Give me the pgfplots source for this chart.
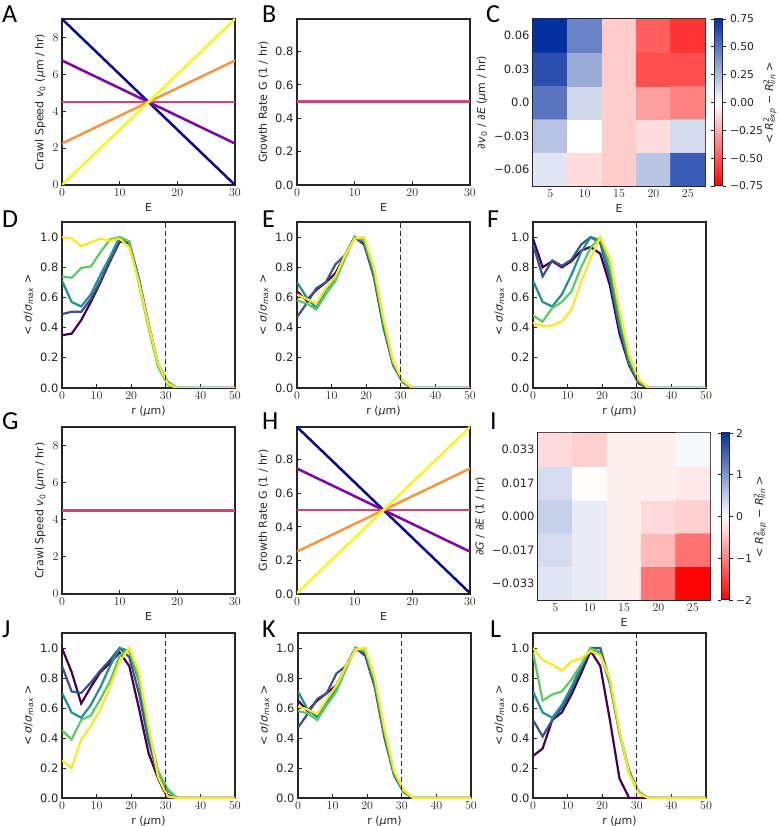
\documentclass[border=0pt]{standalone}
\usepackage{fontspec}
\setmainfont{DejaVu Sans}
\newfontfamily\letterfont{Carlito}
\usepackage{pgfplots}
\usepackage{pgfplotstable}
\pgfplotsset{compat=1.18}

\definecolor{pl0}{HTML}{0D0887}
\definecolor{pl1}{HTML}{7E03A8}
\definecolor{pl2}{HTML}{CC4778}
\definecolor{pl3}{HTML}{F89540}
\definecolor{pl4}{HTML}{F0F921}
\definecolor{vi0}{HTML}{440154}
\definecolor{vi1}{HTML}{3B528B}
\definecolor{vi2}{HTML}{21918C}
\definecolor{vi3}{HTML}{5EC962}
\definecolor{vi4}{HTML}{FDE725}
\definecolor{fg}{HTML}{262626}

\newcommand\Rsq[1]{\textit{R}\rlap{\textsuperscript{2}}\textsubscript{\textit{#1}}}

\pgfplotstableread{
r p b t g y
0 0.35 0.49 0.71 0.74 1.00
2.78 0.36 0.505 0.57 0.73 0.99
5.56 0.45 0.505 0.54 0.795 0.94
8.33 0.57 0.59 0.62 0.805 0.965
11.11 0.70 0.71 0.75 0.90 0.99
13.89 0.84 0.85 0.87 0.985 0.975
16.67 0.97 0.98 1.00 1.00 0.99
19.44 0.96 0.96 0.97 0.97 0.93
22.22 0.72 0.72 0.72 0.69 0.70
25 0.42 0.42 0.43 0.40 0.42
27.78 0.15 0.15 0.16 0.14 0.16
30.56 0.03 0.03 0.04 0.02 0.03
33.33 0 0 0 0 0
36.11 0 0 0 0 0
38.89 0 0 0 0 0
41.67 0 0 0 0 0
44.44 0 0 0 0 0
47.22 0 0 0 0 0
50 0 0 0 0 0
}\tabD

\pgfplotstableread{
r p b t g y
0 0.64 0.47 0.70 0.58 0.62
2.78 0.58 0.56 0.60 0.56 0.59
5.56 0.65 0.66 0.53 0.52 0.56
8.33 0.70 0.70 0.65 0.62 0.66
11.11 0.76 0.82 0.73 0.71 0.74
13.89 0.88 0.88 0.88 0.86 0.88
16.67 1.00 1.00 1.00 1.00 0.99
19.44 0.95 0.96 0.97 0.98 1.00
22.22 0.74 0.74 0.76 0.78 0.80
25 0.41 0.40 0.42 0.44 0.46
27.78 0.16 0.15 0.16 0.17 0.18
30.56 0.04 0.04 0.04 0.05 0.05
33.33 0 0 0 0 0
36.11 0 0 0 0 0
38.89 0 0 0 0 0
41.67 0 0 0 0 0
44.44 0 0 0 0 0
47.22 0 0 0 0 0
50 0 0 0 0 0
}\tabE

\pgfplotstableread{
r p b t g y
0 0.99 0.95 0.71 0.48 0.43
2.78 0.80 0.74 0.57 0.44 0.41
5.56 0.84 0.845 0.54 0.53 0.415
8.33 0.80 0.81 0.62 0.57 0.44
11.11 0.84 0.85 0.75 0.64 0.52
13.89 0.91 0.95 0.90 0.80 0.70
16.67 0.935 1.00 1.00 0.93 0.86
19.44 0.89 0.96 0.98 1.00 1.00
22.22 0.68 0.72 0.76 0.82 0.86
25 0.36 0.40 0.42 0.48 0.52
27.78 0.15 0.16 0.17 0.20 0.22
30.56 0.03 0.04 0.04 0.05 0.06
33.33 0 0 0 0 0
36.11 0 0 0 0 0
38.89 0 0 0 0 0
41.67 0 0 0 0 0
44.44 0 0 0 0 0
47.22 0 0 0 0 0
50 0 0 0 0 0
}\tabF

\pgfplotstableread{
r p b t g y
0 1.00 0.88 0.70 0.45 0.25
2.78 0.84 0.71 0.57 0.39 0.20
5.56 0.63 0.70 0.535 0.52 0.39
8.33 0.74 0.77 0.62 0.55 0.48
11.11 0.84 0.85 0.74 0.66 0.59
13.89 0.90 0.92 0.88 0.78 0.74
16.67 0.97 1.00 1.00 0.95 0.91
19.44 0.88 0.94 0.98 0.99 1.00
22.22 0.60 0.70 0.78 0.80 0.84
25 0.30 0.38 0.42 0.46 0.48
27.78 0.13 0.15 0.16 0.18 0.14
30.56 0.00 0.02 0.05 0.06 0.01
33.33 0 0 0 0 0
36.11 0 0 0 0 0
38.89 0 0 0 0 0
41.67 0 0 0 0 0
44.44 0 0 0 0 0
47.22 0 0 0 0 0
50 0 0 0 0 0
}\tabJ

\pgfplotstableread{
r p b t g y
0 0.65 0.47 0.71 0.58 0.61
2.78 0.58 0.56 0.59 0.565 0.59
5.56 0.65 0.66 0.54 0.52 0.56
8.33 0.70 0.70 0.64 0.62 0.66
11.11 0.75 0.83 0.73 0.71 0.75
13.89 0.88 0.88 0.88 0.86 0.88
16.67 1.00 1.00 1.00 1.00 0.99
19.44 0.95 0.96 0.97 0.98 1.00
22.22 0.74 0.74 0.76 0.78 0.80
25 0.41 0.40 0.42 0.44 0.46
27.78 0.16 0.15 0.16 0.17 0.18
30.56 0.04 0.04 0.04 0.05 0.05
33.33 0 0 0 0 0
36.11 0 0 0 0 0
38.89 0 0 0 0 0
41.67 0 0 0 0 0
44.44 0 0 0 0 0
47.22 0 0 0 0 0
50 0 0 0 0 0
}\tabK

\pgfplotstableread{
r p b t g y
0 0.28 0.52 0.71 0.97 1.00
2.78 0.33 0.41 0.57 0.65 0.92
5.56 0.52 0.52 0.535 0.69 0.89
8.33 0.57 0.60 0.62 0.71 0.85
11.11 0.69 0.72 0.74 0.79 0.91
13.89 0.83 0.86 0.88 0.89 0.93
16.67 0.98 1.00 1.00 1.00 0.98
19.44 0.88 1.00 0.97 0.96 0.95
22.22 0.52 0.78 0.76 0.78 0.80
25 0.13 0.44 0.43 0.44 0.45
27.78 0.00 0.18 0.17 0.17 0.16
30.56 0.00 0.04 0.04 0.04 0.03
33.33 0 0 0 0 0
36.11 0 0 0 0 0
38.89 0 0 0 0 0
41.67 0 0 0 0 0
44.44 0 0 0 0 0
47.22 0 0 0 0 0
50 0 0 0 0 0
}\tabL

% heatmaps: x = E, y = row index (0 = most negative slope), c = value
\pgfplotstableread{
x y c
5 0 0.09
10 0 -0.10
15 0 -0.15
20 0 0.21
25 0 0.59
5 1 0.22
10 1 0.0
15 1 -0.15
20 1 -0.10
25 1 0.13
5 2 0.50
10 2 0.14
15 2 -0.15
20 2 -0.28
25 2 -0.37
5 3 0.64
10 3 0.30
15 3 -0.15
20 3 -0.52
25 3 -0.52
5 4 0.75
10 4 0.45
15 4 -0.15
20 4 -0.47
25 4 -0.60
}\tabC

\pgfplotstableread{
x y c
5 0 0.24
10 0 0.18
15 0 -0.12
20 0 -1.10
25 0 -1.95
5 1 0.34
10 1 0.18
15 1 -0.12
20 1 -0.55
25 1 -1.10
5 2 0.45
10 2 0.18
15 2 -0.12
20 2 -0.30
25 2 -0.37
5 3 0.34
10 3 -0.02
15 3 -0.12
20 3 -0.12
25 3 -0.18
5 4 -0.27
10 4 -0.37
15 4 -0.12
20 4 -0.12
25 4 0.07
}\tabI

\pgfplotsset{
  base/.style={scale only axis, width=173pt, height=166pt, anchor=south west,
    axis line style={line width=1.5pt, fg},
    tick style={line width=0.8pt, fg},
    major tick length=3.5pt,
    tick align=inside,
    tick pos=left,
    ticklabel style={font=\fontsize{11.5}{13}\selectfont, text=fg},
    label style={font=\fontsize{11}{12}\selectfont, text=fg},
  },
  lin/.style={base, xmin=0, xmax=30, xtick={0,10,20,30}, xlabel={E}},
  vax/.style={lin, ymin=0, ymax=9, ytick={0,2,4,6,8},
    ylabel={Crawl Speed \textit{v}\textsubscript{0} (\textit{μ}m / hr)}},
  gax/.style={lin, ymin=0, ymax=0.995, ytick={0,0.2,0.4,0.6,0.8},
    yticklabels={0.0,0.2,0.4,0.6,0.8},
    ylabel={Growth Rate G (1 / hr)}},
  prof/.style={base, xmin=0, xmax=50, ymin=0, ymax=1.1,
    xtick={0,10,20,30,40,50}, ytick={0,0.2,0.4,0.6,0.8,1},
    yticklabels={0.0,0.2,0.4,0.6,0.8,1.0},
    xlabel={r (\textit{μ}m)},
    ylabel={< \textit{σ}/\textit{σ}\textsubscript{\textit{max}} >}},
  heat/.style={base, width=172pt, height=167pt, enlargelimits=false,
    xmin=2.5, xmax=27.5, ymin=-0.5, ymax=4.5,
    xtick={5,10,15,20,25}, ytick={0,1,2,3,4}, xlabel={E},
    colormap={rb}{rgb255=(255,0,0) rgb255=(255,255,255) rgb255=(5,48,160)},
    colorbar},
  cbar/.style={width=8pt, at={(1.058,1)}, anchor=north west,
    axis line style={line width=1pt, fg},
    tick style={line width=0.8pt, fg}, major tick length=3.5pt,
    ytick align=outside,
    ticklabel style={font=\fontsize{10.8}{13}\selectfont, text=fg},
    label style={font=\fontsize{11}{12}\selectfont, text=fg},
    ylabel={< \Rsq{exp} − \Rsq{lin} >}},
}

\newcommand\profiles[1]{%
  \addplot[vi0, line width=2.2pt] table[x=r, y=p]{#1};
  \addplot[vi1, line width=2.2pt] table[x=r, y=b]{#1};
  \addplot[vi2, line width=2.2pt] table[x=r, y=t]{#1};
  \addplot[vi3, line width=2.2pt] table[x=r, y=g]{#1};
  \addplot[vi4, line width=2.2pt] table[x=r, y=y]{#1};
  \addplot[fg, line width=1.3pt, dash pattern=on 5pt off 3pt] coordinates {(30,0) (30,1.1)};
}

\begin{document}
\begin{tikzpicture}
\useasboundingbox (0,0) rectangle (778pt,826pt);

% ---------- row 1 ----------
\begin{axis}[vax, at={(62pt,641pt)}]
\addplot[pl0, line width=2.5pt] coordinates {(0,9) (30,0)};
\addplot[pl1, line width=2.5pt] coordinates {(0,6.75) (30,2.25)};
\addplot[pl2, line width=2.5pt] coordinates {(0,4.5) (30,4.5)};
\addplot[pl3, line width=2.5pt] coordinates {(0,2.25) (30,6.75)};
\addplot[pl4, line width=2.5pt] coordinates {(0,0) (30,9)};
\end{axis}

\begin{axis}[gax, at={(297pt,641pt)}]
\addplot[pl2, line width=2.5pt] coordinates {(0,0.5) (30,0.5)};
\end{axis}

\begin{axis}[heat, at={(533pt,640pt)},
  yticklabels={−0.06,−0.03,0.0,0.03,0.06},
  ylabel={\textit{∂v}\textsubscript{0} / \textit{∂E} (\textit{μ}m / hr)},
  point meta min=-0.75, point meta max=0.75,
  colorbar style={cbar, ytick={-0.75,-0.5,-0.25,0,0.25,0.5,0.75},
    yticklabels={−0.75,−0.50,−0.25,0.00,0.25,0.50,0.75},
    ylabel style={at={(axis description cs:1,0.5)}, anchor=center, yshift=-47pt}}]
\addplot[matrix plot*, mesh/cols=5, point meta=explicit] table[x=x, y=y, meta=c]{\tabC};
\end{axis}

% ---------- row 2 ----------
\begin{axis}[prof, at={(62pt,438pt)}]
\profiles{\tabD}
\end{axis}
\begin{axis}[prof, at={(297pt,438pt)}]
\profiles{\tabE}
\end{axis}
\begin{axis}[prof, at={(533pt,438pt)}]
\profiles{\tabF}
\end{axis}

% ---------- row 3 ----------
\begin{axis}[vax, at={(62pt,232pt)}, height=167pt]
\addplot[pl2, line width=2.5pt] coordinates {(0,4.5) (30,4.5)};
\end{axis}

\begin{axis}[gax, at={(297pt,232pt)}, height=167pt]
\addplot[pl0, line width=2.5pt] coordinates {(0,0.995) (30,0.005)};
\addplot[pl1, line width=2.5pt] coordinates {(0,0.7475) (30,0.2525)};
\addplot[pl2, line width=2.5pt] coordinates {(0,0.5) (30,0.5)};
\addplot[pl3, line width=2.5pt] coordinates {(0,0.2525) (30,0.7475)};
\addplot[pl4, line width=2.5pt] coordinates {(0,0.005) (30,0.995)};
\end{axis}

\begin{axis}[heat, at={(538pt,226pt)},
  yticklabels={−0.033,−0.017,0.000,0.017,0.033},
  ylabel={\textit{∂G} / \textit{∂E} (1 / hr)},
  point meta min=-2, point meta max=2,
  colorbar style={cbar, at={(1.064,1)}, ytick={-2,-1,0,1,2},
    yticklabels={−2,−1,0,1,2},
    ylabel style={at={(axis description cs:1,0.5)}, anchor=center, yshift=-31pt}}]
\addplot[matrix plot*, mesh/cols=5, point meta=explicit] table[x=x, y=y, meta=c]{\tabI};
\end{axis}

% ---------- row 4 ----------
\begin{axis}[prof, at={(62pt,28pt)}, height=165pt]
\profiles{\tabJ}
\end{axis}
\begin{axis}[prof, at={(298pt,28pt)}, height=165pt]
\profiles{\tabK}
\end{axis}
\begin{axis}[prof, at={(533pt,28pt)}, height=165pt]
\profiles{\tabL}
\end{axis}

% ---------- panel letters ----------
\begin{scope}[every node/.style={anchor=base west, inner sep=0pt, font=\letterfont\fontsize{26}{26}\selectfont}]
\node at (2pt,803pt) {A};
\node at (262pt,803pt) {B};
\node at (486pt,803pt) {C};
\node at (2pt,598pt) {D};
\node at (262pt,598pt) {E};
\node at (487pt,598pt) {F};
\node at (2pt,396pt) {G};
\node at (262pt,396pt) {H};
\node at (490pt,396pt) {I};
\node at (2pt,188pt) {J};
\node at (262pt,188pt) {K};
\node at (490pt,188pt) {L};
\end{scope}
\end{tikzpicture}
\end{document}
